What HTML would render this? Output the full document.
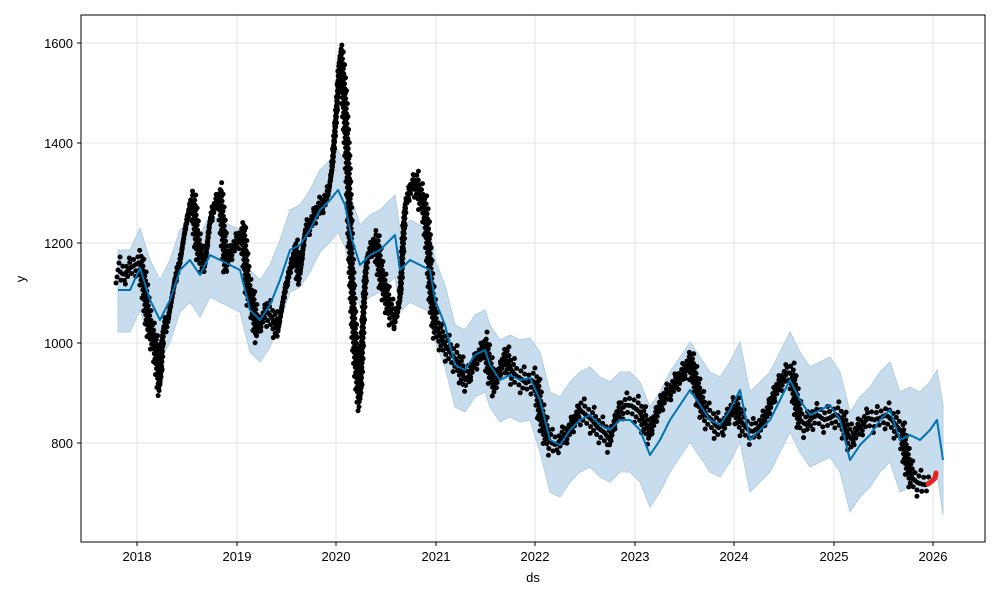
<!DOCTYPE html>
<html><head><meta charset="utf-8"><style>
html,body{margin:0;padding:0;background:#fff;}
svg{display:block;font-family:"Liberation Sans","DejaVu Sans",sans-serif;}
</style></head><body>
<svg width="1000" height="600" viewBox="0 0 1000 600" xmlns="http://www.w3.org/2000/svg">
<rect width="1000" height="600" fill="#fff"/>
<defs><clipPath id="c"><rect x="81" y="15" width="904" height="527"/></clipPath>
<polyline id="d" points="118,270 124,275 130,268 140,262 145,290 148,320 152,335 155,345 158,365 160,385 163,330 168,320 175,280 180,262 185,230 190,205 193,200 197,240 200,255 205,265 210,220 215,205 220,195 223,230 226,265 232,250 238,240 243,232 248,290 252,300 257,330 262,320 266,310 272,318 278,330 284,295 290,270 295,250 300,275 305,232 310,225 316,212 322,205 328,195 332,170 335,130 338,90 340,55 342,70 345,110 348,170 351,260 354,330 357,370 360,400 363,320 366,265 370,250 376,240 381,275 386,295 390,310 395,320 400,300 405,205 410,190 415,180 420,195 425,210 428,240 431,290 435,325 440,335 445,345 452,355 458,362 465,380 470,375 475,360 480,355 485,345 490,370 495,385 500,370 505,355 510,368 515,375 520,378 526,383 532,380 537,385 540,410 545,430 550,442 556,445 562,438 568,432 575,420 580,410 586,415 592,420 598,428 604,432 610,440 615,420 620,410 626,405 632,406 640,412 646,425 650,432 655,418 660,405 666,395 672,388 678,380 684,372 690,360 695,380 700,400 706,415 712,420 718,428 724,425 730,412 735,405 740,420 746,428 752,432 758,428 764,420 770,405 776,390 782,380 788,372 792,375 796,400 800,420 806,425 812,418 818,415 824,420 830,418 836,414 842,420 848,435 852,440 856,432 862,425 868,418 874,420 880,418 886,415 892,420 898,428 902,432 905,450 908,465 912,478 918,483 925,485 930,483"/>
</defs>
<g stroke="#e3e3e3" stroke-width="1">
<line x1="137" y1="15" x2="137" y2="542"/><line x1="237" y1="15" x2="237" y2="542"/><line x1="336" y1="15" x2="336" y2="542"/><line x1="436" y1="15" x2="436" y2="542"/><line x1="535" y1="15" x2="535" y2="542"/><line x1="635" y1="15" x2="635" y2="542"/><line x1="734" y1="15" x2="734" y2="542"/><line x1="834" y1="15" x2="834" y2="542"/><line x1="933" y1="15" x2="933" y2="542"/>
<line x1="81" y1="43" x2="985" y2="43"/><line x1="81" y1="143" x2="985" y2="143"/><line x1="81" y1="243" x2="985" y2="243"/><line x1="81" y1="343" x2="985" y2="343"/><line x1="81" y1="443" x2="985" y2="443"/>
</g>
<g clip-path="url(#c)" fill="none">
<polygon fill="#c7dcec" stroke="#b0cfe4" stroke-width="1" points="118,250 130,250 140,228 150,260 160,280 170,260 180,230 190,220 200,235 210,215 220,220 230,225 240,230 250,270 260,280 270,265 280,240 290,210 300,205 310,190 320,170 330,160 338,150 345,165 352,200 360,225 370,215 380,210 390,200 395,195 400,230 410,220 420,225 430,230 435,260 445,285 455,325 465,330 475,315 485,310 490,325 500,340 510,335 520,340 530,338 540,352 550,392 560,397 570,382 580,372 590,367 600,377 610,382 620,372 630,372 640,382 650,407 660,392 670,372 680,357 690,342 700,357 710,372 720,377 730,362 740,342 750,392 760,382 770,372 780,352 790,332 800,352 810,367 820,362 830,357 840,372 850,412 860,397 870,387 880,372 890,362 900,392 910,387 920,392 930,382 937,370 943,405 943,515 937,472 930,482 920,492 910,487 900,492 890,462 880,472 870,487 860,497 850,512 840,472 830,457 820,462 810,467 800,452 790,432 780,452 770,472 760,482 750,492 740,442 730,462 720,477 710,472 700,457 690,442 680,457 670,472 660,492 650,507 640,482 630,472 620,472 610,482 600,477 590,467 580,472 570,482 560,497 550,492 540,452 530,420 520,422 510,417 500,422 490,407 485,392 475,397 465,412 455,407 445,367 435,342 430,312 420,307 410,302 400,312 395,277 390,282 380,292 370,297 360,307 352,282 345,247 338,232 330,242 320,252 310,272 300,287 290,292 280,322 270,347 260,362 250,352 240,312 230,307 220,302 210,297 200,317 190,302 180,312 170,342 160,362 150,342 140,310 130,332 118,332"/>
<g stroke="#000" stroke-width="5" stroke-linecap="round" stroke-linejoin="round">
<use href="#d" stroke-dasharray="0 3"/>
<use href="#d" transform="translate(1,-7)" stroke-dasharray="0 5"/>
<use href="#d" transform="translate(-1,7)" stroke-dasharray="0 5"/>
<use href="#d" transform="translate(2,-13)" stroke-dasharray="0 13"/>
<use href="#d" transform="translate(-2,13)" stroke-dasharray="0 13"/>
</g>
<polyline stroke="#e8221c" stroke-width="5" stroke-linecap="round" points="928,484 932,481 935,478 936,473"/>
<polyline stroke="#0072b2" stroke-width="2" stroke-linejoin="round" points="118,290 130,290 140,268 150,300 160,320 170,300 180,270 190,260 200,275 210,255 220,260 230,265 240,270 250,310 260,320 270,305 280,280 290,250 300,245 310,230 320,210 330,200 338,190 345,205 352,240 360,265 370,255 380,250 390,240 395,235 400,270 410,260 420,265 430,270 435,300 445,325 455,365 465,370 475,355 485,350 490,365 500,380 510,375 520,380 530,378 540,400 550,440 560,445 570,430 580,420 590,415 600,425 610,430 620,420 630,420 640,430 650,455 660,440 670,420 680,405 690,390 700,405 710,420 720,425 730,410 740,390 750,440 760,430 770,420 780,400 790,380 800,400 810,415 820,410 830,405 840,420 850,460 860,445 870,435 880,420 890,410 900,440 910,435 920,440 930,430 937,420 943,460"/>
</g>
<rect x="81" y="15" width="904" height="527" fill="none" stroke="#000" stroke-width="1"/>
<g stroke="#000"><line x1="81" y1="43" x2="77" y2="43"/><line x1="81" y1="143" x2="77" y2="143"/><line x1="81" y1="243" x2="77" y2="243"/><line x1="81" y1="343" x2="77" y2="343"/><line x1="81" y1="443" x2="77" y2="443"/>
<line x1="137" y1="542" x2="137" y2="546"/><line x1="237" y1="542" x2="237" y2="546"/><line x1="336" y1="542" x2="336" y2="546"/><line x1="436" y1="542" x2="436" y2="546"/><line x1="535" y1="542" x2="535" y2="546"/><line x1="635" y1="542" x2="635" y2="546"/><line x1="734" y1="542" x2="734" y2="546"/><line x1="834" y1="542" x2="834" y2="546"/><line x1="933" y1="542" x2="933" y2="546"/></g>
<g font-size="13" fill="#000" text-anchor="end"><text x="73" y="48">1600</text><text x="73" y="148">1400</text><text x="73" y="248">1200</text><text x="73" y="348">1000</text><text x="73" y="448">800</text></g>
<g font-size="13" fill="#000" text-anchor="middle"><text x="137" y="561">2018</text><text x="237" y="561">2019</text><text x="336" y="561">2020</text><text x="436" y="561">2021</text><text x="535" y="561">2022</text><text x="635" y="561">2023</text><text x="734" y="561">2024</text><text x="834" y="561">2025</text><text x="933" y="561">2026</text>
<text x="533" y="582">ds</text><text x="25" y="279" transform="rotate(-90 25 279)">y</text></g>
</svg>
</body></html>
